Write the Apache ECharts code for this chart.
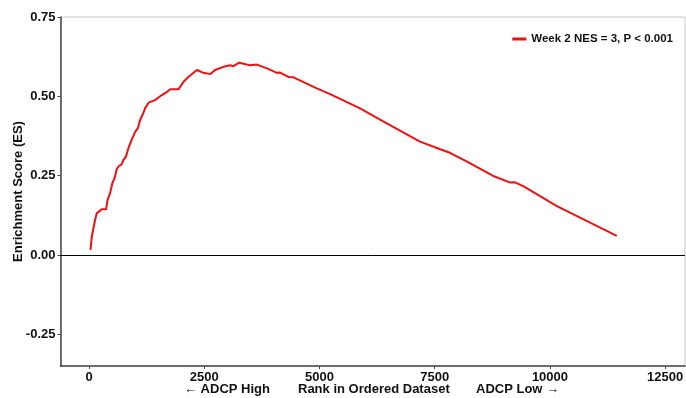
<!DOCTYPE html>
<html>
<head>
<meta charset="utf-8">
<script src="https://cdn.jsdelivr.net/npm/echarts@6/dist/echarts.min.js"></script>
<style>
html,body{margin:0;padding:0;background:#fff;}
#chart{width:686px;height:398px;}
</style>
</head>
<body>
<div id="chart"></div>
<script>
var seriesName = 'Week 2 NES = 3, P < 0.001';
var rankValues = [30, 60, 130, 165, 275, 370, 400, 455, 505, 560, 600, 650, 700, 745, 800, 850, 890, 930, 1000, 1060, 1107, 1170, 1215, 1250, 1290, 1430, 1580, 1700, 1760, 1940, 2050, 2155, 2340, 2480, 2630, 2735, 2915, 3060, 3130, 3260, 3420, 3500, 3640, 3860, 4075, 4145, 4325, 4435, 4940, 5230, 5880, 6460, 7180, 7620, 7830, 8200, 8770, 9140, 9240, 9420, 10150, 11450];
var esValues = [0.016, 0.058, 0.110, 0.131, 0.144, 0.144, 0.173, 0.194, 0.226, 0.245, 0.270, 0.281, 0.284, 0.299, 0.310, 0.335, 0.350, 0.365, 0.388, 0.400, 0.425, 0.445, 0.462, 0.467, 0.480, 0.488, 0.504, 0.515, 0.522, 0.522, 0.546, 0.561, 0.583, 0.574, 0.570, 0.583, 0.593, 0.598, 0.595, 0.606, 0.600, 0.598, 0.600, 0.588, 0.574, 0.575, 0.561, 0.560, 0.525, 0.507, 0.462, 0.415, 0.357, 0.333, 0.322, 0.294, 0.249, 0.228, 0.229, 0.217, 0.154, 0.060];
var xTicks = [0, 2500, 5000, 7500, 10000, 12500];
var yTicks = [-0.25, 0, 0.25, 0.5, 0.75];
var xNameLeft = '\u2190 ADCP High';
var xNameMid = 'Rank in Ordered Dataset';
var xNameRight = 'ADCP Low \u2192';
var yName = 'Enrichment Score (ES)';

var FONT = '"Liberation Sans", Arial, sans-serif';
var chart = echarts.init(document.getElementById('chart'), null, {renderer: 'canvas'});
var data = rankValues.map(function (r, i) { return [r, esValues[i]]; });

chart.setOption({
  animation: false,
  backgroundColor: '#ffffff',
  grid: {
    left: 60.5, right: 1, top: 17, bottom: 32,
    containLabel: false, outerBoundsMode: 'none',
    show: true, borderColor: '#c8c8c8', borderWidth: 1, backgroundColor: 'transparent'
  },
  legend: {
    right: 8, top: 28,
    icon: 'rect', itemWidth: 14, itemHeight: 3, itemGap: 7,
    textStyle: {fontFamily: FONT, fontWeight: 'bold', fontSize: 11.5, color: '#111'},
    data: [seriesName]
  },
  xAxis: {
    type: 'value', min: -620, max: 12930,
    splitLine: {show: false},
    axisLine: {show: true, onZero: false, lineStyle: {color: '#444', width: 1.5}},
    axisTick: {show: true, length: 3, customValues: xTicks, lineStyle: {color: '#444'}},
    axisLabel: {customValues: xTicks, margin: 5, fontFamily: FONT, fontWeight: 'bold', fontSize: 13, color: '#111',
      formatter: function (v) { return String(v); }}
  },
  yAxis: {
    type: 'value', min: -0.35, max: 0.75,
    name: yName, nameLocation: 'middle', nameGap: 36, nameRotate: 90, nameMoveOverlap: false,
    nameTextStyle: {fontFamily: FONT, fontWeight: 'bold', fontSize: 13, color: '#111'},
    splitLine: {show: false},
    axisLine: {show: true, onZero: false, lineStyle: {color: '#444', width: 1.5}},
    axisTick: {show: true, length: 3, customValues: yTicks, lineStyle: {color: '#444'}},
    axisLabel: {customValues: yTicks, margin: 5, fontFamily: FONT, fontWeight: 'bold', fontSize: 13, color: '#111',
      formatter: function (v) { return v.toFixed(2); }}
  },
  graphic: [
    {type: 'text', left: 184, top: 383, style: {text: xNameLeft, font: 'bold 13px ' + FONT, fill: '#111'}},
    {type: 'text', left: 298, top: 383, style: {text: xNameMid, font: 'bold 13px ' + FONT, fill: '#111'}},
    {type: 'text', left: 476, top: 383, style: {text: xNameRight, font: 'bold 13px ' + FONT, fill: '#111'}}
  ],
  series: [{
    name: seriesName,
    type: 'line',
    data: data,
    showSymbol: false,
    symbol: 'none',
    color: '#ee1111',
    lineStyle: {color: '#ee1111', width: 2},
    markLine: {
      silent: true, symbol: 'none', label: {show: false},
      lineStyle: {color: '#000', width: 1, type: 'solid'},
      data: [{yAxis: 0}]
    }
  }]
});
</script>
</body>
</html>
